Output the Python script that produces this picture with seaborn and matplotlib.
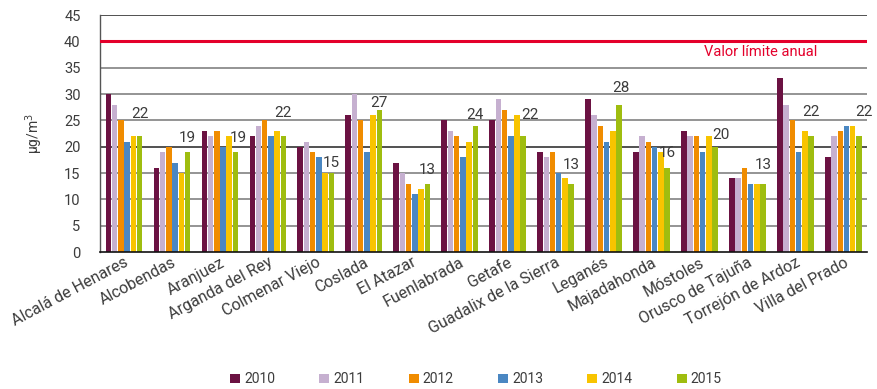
import numpy as np
import pandas as pd
import matplotlib
matplotlib.use("Agg")
import matplotlib.pyplot as plt
import seaborn as sns

# NO2 annual mean per station (µg/m³)
stations = ["Alcalá de Henares", "Alcobendas", "Aranjuez", "Arganda del Rey",
            "Colmenar Viejo", "Coslada", "El Atazar", "Fuenlabrada", "Getafe",
            "Guadalix de la Sierra", "Leganés", "Majadahonda", "Móstoles",
            "Orusco de Tajuña", "Torrejón de Ardoz", "Villa del Prado"]
years = ["2010", "2011", "2012", "2013", "2014", "2015"]

v2010 = [30, 16, 23, 22, 20, 26, 17, 25, 25, 19, 29, 19, 23, 14, 33, 18]
v2011 = [28, 19, 22, 24, 21, 30, 15, 23, 29, 18, 26, 22, 22, 14, 28, 22]
v2012 = [25, 20, 23, 25, 19, 25, 13, 22, 27, 19, 24, 21, 22, 16, 25, 23]
v2013 = [21, 17, 20, 22, 18, 19, 11, 18, 22, 15, 21, 20, 19, 13, 19, 24]
v2014 = [22, 15, 22, 23, 15, 26, 12, 21, 26, 14, 23, 19, 22, 13, 23, 24]
v2015 = [22, 19, 19, 22, 15, 27, 13, 24, 22, 13, 28, 16, 20, 13, 22, 22]

limit_value = 40
limit_label = "Valor límite anual"

colors = ["#6b1242", "#c6b0d0", "#f08c00", "#4a87c2", "#f8c400", "#9fbd0f"]

# Where each 2015 value label sits: baseline height (data units) and
# a small horizontal nudge (pixels) to keep it clear of the 2014 bar
label_base = [25.4, 20.9, 20.9, 25.7, 16.1, 27.5, 14.8, 25.2,
              25.2, 15.7, 30.4, 18.0, 21.4, 15.7, 25.8, 25.8]
label_nudge = [0, 0, 3, 0, 0, 0, 0, 0, 7, 0, 2, 0, 6, 0, 0, 5]

series = [v2010, v2011, v2012, v2013, v2014, v2015]
df = pd.DataFrame({
    "station": np.tile(stations, len(years)),
    "year": np.repeat(years, len(stations)),
    "value": np.concatenate(series),
})

sns.set_style("white")
plt.rcParams["font.family"] = ["Roboto", "DejaVu Sans"]
text_color = "#3c3c3c"

fig = plt.figure(figsize=(8.77, 3.89), dpi=100)
ax = fig.add_axes([0.114, 0.352, 0.875, 0.609])

group_w = 0.78
sns.barplot(data=df, x="station", y="value", hue="year", order=stations,
            hue_order=years, palette=colors, saturation=1, width=group_w,
            gap=0.12, linewidth=0, errorbar=None, ax=ax, legend=True)

ax.set_ylim(0, 45)
ax.set_xlim(-0.5, len(stations) - 0.5)
ax.set_yticks(range(0, 46, 5))
for y in range(5, 46, 5):
    if y == 20 or y == 45:
        ax.axhline(y, color="#222222", lw=1.1, zorder=0)
    else:
        ax.axhline(y, color="#777777", lw=1.1, zorder=0)

# Annual limit line
ax.axhline(limit_value, color="#e4002b", lw=2.2, zorder=3)
ax.text(len(stations) - 0.5 - 1.05, limit_value - 0.6, limit_label,
        ha="right", va="top", color="#e4002b", fontsize=10.5)

# 2015 value above each group
n_h = len(years)
bar_w = group_w / n_h
for i, v in enumerate(v2015):
    x = i - group_w / 2 + bar_w * (n_h - 0.5)
    ax.annotate(f"{v}", (x, label_base[i]), xytext=(label_nudge[i] * 0.72, 0),
                textcoords="offset points", ha="center", va="baseline",
                fontsize=11, color=text_color)

ax.set_xlabel("")
ax.set_ylabel("µg/m$^3$", color=text_color, fontsize=10, labelpad=14)
ax.tick_params(axis="y", length=0, pad=14, labelsize=10.5, labelcolor=text_color)
ax.tick_params(axis="x", length=0, pad=2, labelsize=11.5, labelcolor=text_color)
plt.setp(ax.get_xticklabels(), rotation=28, ha="right", rotation_mode="anchor")

for s in ["top", "right"]:
    ax.spines[s].set_visible(False)
ax.spines["left"].set_color("#555555")
ax.spines["left"].set_linewidth(1.0)
ax.spines["bottom"].set_color("#111111")
ax.spines["bottom"].set_linewidth(1.2)

handles, labels = ax.get_legend_handles_labels()
ax.legend(handles, labels, loc="lower center", bbox_to_anchor=(0.49, -0.62),
          bbox_transform=ax.transAxes, ncol=6, frameon=False,
          handlelength=0.7, handleheight=0.7, handletextpad=0.3,
          columnspacing=3.2, fontsize=10, labelcolor=text_color)

fig.savefig("out.png", dpi=100)
